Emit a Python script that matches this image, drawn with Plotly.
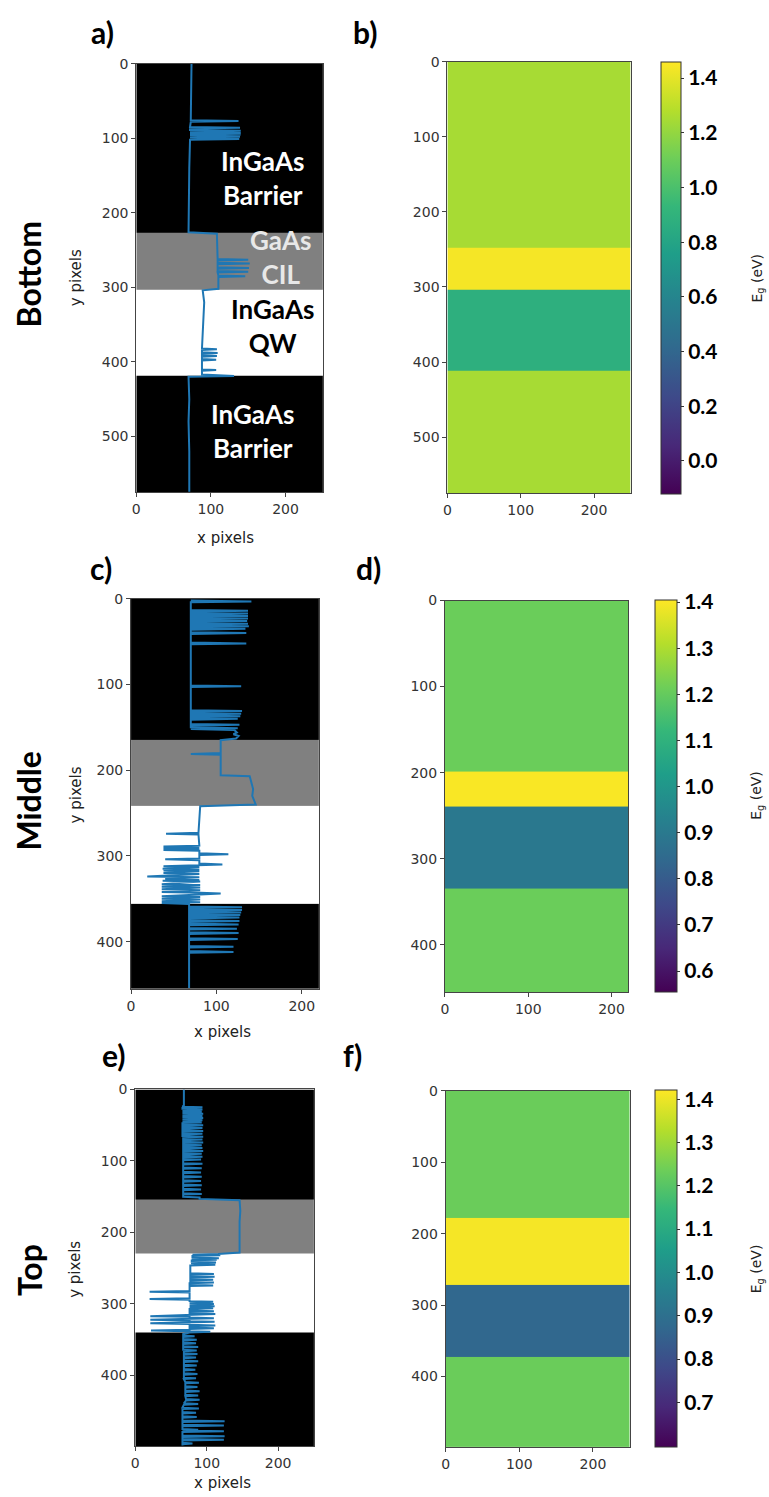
import plotly.graph_objects as go

W, H = 769, 1497

# ---------------- data ----------------
# Left column: segmented layer maps (0 = InGaAs barrier / black, 1 = GaAs CIL / gray, 2 = InGaAs QW / white)
a_cols, a_rows = 250, 575
a_edges = [0, 227, 303, 418, 575]
a_phase = [0, 1, 2, 0]
a_line = [
    (0, 74), (40, 73), (76, 73), (77, 137), (78, 73), (85, 72), (86, 139), (87, 72), (89, 72), (90, 140),
    (91, 72), (92, 72), (93, 140), (94, 72), (95, 140), (96, 72), (98, 139), (99, 72), (101, 138), (102, 72),
    (140, 71), (190, 71), (226, 70),
    (228, 108), (245, 109), (262, 109), (263, 150), (264, 109), (267, 109), (268, 152), (269, 109), (273, 109),
    (274, 151), (275, 109), (278, 109), (279, 150), (280, 109), (284, 110), (285, 146), (286, 110), (302, 110),
    (304, 89), (320, 91), (345, 90), (365, 89), (382, 88), (383, 108), (384, 88), (387, 88), (388, 109),
    (389, 88), (391, 88), (392, 108), (393, 88), (396, 88), (397, 107), (398, 88), (410, 88), (411, 107),
    (412, 88), (417, 88), (419, 131), (420, 70),
    (450, 71), (480, 70), (520, 71), (574, 71),
]

c_cols, c_rows = 220, 455
c_edges = [0, 164, 241, 356, 455]
c_phase = [0, 1, 2, 0]
c_line = [
    (2, 70), (3, 141), (4, 70), (13, 70), (14, 137), (15, 70), (16, 70), (17, 137), (18, 70), (19, 70),
    (20, 137), (21, 70), (22, 70), (23, 137), (24, 70), (25, 70), (26, 136), (27, 70), (28, 70), (29, 137),
    (30, 70), (31, 70), (32, 138), (33, 70), (34, 70), (35, 134), (36, 70), (39, 70), (40, 135), (41, 70),
    (51, 70), (52, 135), (53, 70), (101, 70), (102, 129), (103, 70), (130, 70), (131, 130), (132, 70),
    (133, 70), (134, 129), (135, 70), (136, 70), (137, 128), (138, 70), (139, 70), (140, 125), (141, 70),
    (146, 70), (147, 127), (148, 70), (150, 70), (151, 125), (152, 70), (153, 121), (156, 124), (158, 120),
    (160, 126), (163, 123),
    (165, 105), (180, 105), (181, 70), (182, 105), (206, 105), (207, 139), (215, 141), (222, 143),
    (230, 142), (235, 144), (240, 146),
    (242, 81), (255, 80), (270, 79), (273, 79), (274, 41), (275, 79), (288, 80), (289, 38), (290, 80),
    (291, 38), (292, 80), (293, 38), (294, 80), (297, 80), (298, 114), (299, 80), (303, 80), (304, 40),
    (305, 80), (309, 80), (310, 107), (311, 80), (312, 38), (313, 80), (315, 37), (316, 80), (317, 38),
    (318, 80), (320, 38), (321, 80), (323, 40), (324, 19), (325, 80), (327, 40), (328, 80), (329, 37),
    (330, 81), (333, 36), (334, 81), (336, 36), (337, 81), (339, 36), (340, 81), (342, 36), (343, 81),
    (344, 105), (345, 81), (347, 36), (348, 81), (350, 36), (351, 81), (353, 36), (354, 81), (355, 36),
    (356, 68), (359, 68), (360, 130), (361, 68), (362, 68), (363, 130), (364, 68), (365, 68), (366, 129),
    (367, 68), (368, 68), (369, 128), (370, 68), (371, 68), (372, 127), (373, 68), (375, 68), (376, 127),
    (377, 68), (379, 68), (380, 126), (381, 68), (384, 68), (385, 124), (386, 68), (389, 68), (390, 126),
    (391, 68), (396, 68), (397, 125), (398, 68), (405, 68), (406, 120), (407, 68), (411, 68), (412, 120),
    (413, 68), (454, 68),
]

e_cols, e_rows = 250, 499
e_edges = [0, 154, 229, 340, 499]
e_phase = [0, 1, 2, 0]
e_line = [
    (0, 68), (22, 68), (24, 66),
    (25, 94), (26, 66), (27, 66), (28, 94), (29, 66), (30, 66), (31, 93), (32, 66), (33, 66), (34, 95),
    (35, 66), (36, 66), (37, 94), (38, 66), (39, 66), (40, 95), (41, 66), (42, 66), (43, 94), (44, 66),
    (45, 66), (46, 93), (47, 66), (49, 66), (50, 95), (51, 66), (53, 66), (54, 94), (55, 66), (57, 66),
    (58, 95), (59, 66), (61, 66), (62, 94), (63, 66), (65, 66), (66, 95), (67, 67), (69, 67), (70, 94),
    (71, 67), (73, 67), (74, 95), (75, 67), (77, 67), (78, 93), (79, 67), (81, 67), (82, 94), (83, 67),
    (85, 67), (86, 95), (87, 67), (89, 67), (90, 93), (91, 67), (93, 67), (94, 94), (95, 67), (97, 67),
    (98, 92), (99, 67), (103, 67), (104, 94), (105, 67), (109, 67), (110, 93), (111, 67), (115, 67),
    (116, 92), (117, 67), (121, 67), (122, 93), (123, 67), (127, 67), (128, 92), (129, 67), (133, 67),
    (134, 93), (135, 67), (139, 67), (140, 92), (141, 67), (145, 67), (146, 93), (147, 67), (150, 67),
    (151, 90), (153, 90),
    (155, 146), (170, 147), (185, 146), (200, 146), (215, 147), (228, 146),
    (230, 116), (231, 80), (232, 119), (233, 80), (235, 80), (236, 117), (237, 79), (238, 114), (239, 79),
    (241, 79), (242, 113), (243, 78), (245, 112), (246, 77), (257, 77), (258, 110), (259, 77), (261, 77),
    (262, 111), (263, 77), (265, 77), (266, 109), (267, 77), (269, 77), (270, 110), (271, 76), (273, 76),
    (274, 109), (275, 76), (282, 76), (283, 20), (284, 76), (292, 76), (293, 20), (294, 76), (296, 76),
    (297, 109), (298, 76), (299, 76), (300, 110), (301, 76), (302, 76), (303, 111), (304, 76), (305, 76),
    (306, 109), (307, 76), (309, 76), (310, 110), (311, 76), (313, 76), (314, 112), (315, 76), (316, 76),
    (317, 21), (318, 76), (319, 76), (320, 110), (321, 76), (322, 21), (323, 76), (324, 76), (325, 111),
    (326, 76), (327, 21), (328, 76), (329, 76), (330, 112), (331, 76), (333, 76), (334, 110), (335, 76),
    (336, 76), (337, 22), (338, 76), (339, 105), (340, 76),
    (342, 67), (344, 67), (345, 83), (346, 67), (349, 67), (350, 86), (351, 67), (354, 67), (355, 85),
    (356, 67), (359, 67), (360, 88), (361, 67), (364, 67), (365, 86), (366, 68), (369, 68), (370, 87),
    (371, 68), (374, 68), (375, 85), (376, 68), (379, 68), (380, 88), (381, 68), (385, 68), (386, 86),
    (387, 68), (391, 68), (392, 84), (393, 68), (397, 68), (398, 87), (399, 68), (403, 68), (404, 85),
    (405, 68), (409, 70), (410, 89), (411, 70), (415, 70), (416, 87), (417, 70), (421, 70), (422, 90),
    (423, 70), (427, 70), (428, 88), (429, 70), (433, 71), (434, 90), (435, 71), (439, 68), (440, 88),
    (441, 68), (445, 66), (446, 89), (447, 66), (451, 66), (452, 85), (453, 66), (457, 66), (458, 86),
    (459, 66), (463, 66), (464, 125), (465, 66), (469, 66), (470, 124), (471, 66), (475, 66), (476, 88),
    (477, 66), (478, 124), (479, 66), (484, 66), (485, 125), (486, 66), (489, 66), (490, 124), (491, 66),
    (494, 66), (495, 80), (496, 66), (498, 66),
]

# Right column: band-gap maps (eV)
b_cols, b_rows = 250, 575
b_edges = [0, 248, 304, 412, 575]
b_eg = [1.25, 1.44, 0.88, 1.25]
b_crange = [-0.12, 1.46]
b_cticks = [0.0, 0.2, 0.4, 0.6, 0.8, 1.0, 1.2, 1.4]

d_cols, d_rows = 220, 455
d_edges = [0, 199, 239, 335, 455]
d_eg = [1.21, 1.40, 0.895, 1.21]
d_crange = [0.555, 1.405]
d_cticks = [0.6, 0.7, 0.8, 0.9, 1.0, 1.1, 1.2, 1.3, 1.4]

f_cols, f_rows = 250, 499
f_edges = [0, 178, 272, 373, 499]
f_eg = [1.23, 1.41, 0.87, 1.23]
f_crange = [0.596, 1.42]
f_cticks = [0.7, 0.8, 0.9, 1.0, 1.1, 1.2, 1.3, 1.4]

xticks = [0, 100, 200]
yticks_long = [0, 100, 200, 300, 400, 500]
yticks_short = [0, 100, 200, 300, 400]

# ---------------- figure ----------------
def xd(l, r):
    return [l / W, r / W]

def yd(t, b):
    return [1 - b / H, 1 - t / H]

fig = go.Figure()

phase_scale = [[0, "#000000"], [0.5, "#808080"], [1, "#ffffff"]]

left_panels = [
    ("x", "y", a_cols, a_edges, a_phase, a_line),
    ("x3", "y3", c_cols, c_edges, c_phase, c_line),
    ("x5", "y5", e_cols, e_edges, e_phase, e_line),
]
for xa, ya, cols, edges, phase, line in left_panels:
    fig.add_trace(go.Heatmap(
        z=[[p] for p in phase], x=[0, cols], y=edges, xaxis=xa, yaxis=ya,
        colorscale=phase_scale, zmin=0, zmax=2, showscale=False, hoverinfo="skip"))
    fig.add_trace(go.Scatter(
        x=[p[1] for p in line], y=[p[0] for p in line], xaxis=xa, yaxis=ya,
        mode="lines", line=dict(color="#1f77b4", width=2), showlegend=False))

cb_common = dict(
    thicknessmode="pixels", lenmode="fraction", xanchor="left", yanchor="top",
    xpad=0, ypad=0, outlinewidth=1, outlinecolor="#333",
    ticks="outside", ticklen=3, tickcolor="#333", tickformat=".1f",
    tickfont=dict(family="Lato", size=21, color="#000000", weight="bold"),
)
right_panels = [
    ("x2", "y2", b_cols, b_edges, b_eg, b_crange, b_cticks, (660, 54, 488, 20)),
    ("x4", "y4", d_cols, d_edges, d_eg, d_crange, d_cticks, (654.5, 595, 989.3, 22)),
    ("x6", "y6", f_cols, f_edges, f_eg, f_crange, f_cticks, (654, 1088.3, 1447.7, 22)),
]
for xa, ya, cols, edges, eg, cr, ct, (cx, ct_top, cb_bot, th) in right_panels:
    fig.add_trace(go.Heatmap(
        z=[[v] for v in eg], x=[0, cols], y=edges, xaxis=xa, yaxis=ya,
        colorscale="Viridis", zmin=cr[0], zmax=cr[1], hoverinfo="skip",
        colorbar=dict(x=cx / W, y=1 - ct_top / H, len=(cb_bot - ct_top) / H,
                      thickness=th, tickvals=ct, **cb_common)))

axis_style = dict(
    showline=True, mirror=True, linecolor="#444", linewidth=1,
    ticks="outside", ticklen=4, tickcolor="#444", showgrid=False, zeroline=False,
    tickfont=dict(family="DejaVu Sans", size=14, color="#333"),
)

panels = [
    ("", (133, 320.5, 56, 487), a_cols, a_rows, yticks_long),
    ("2", (445.7, 630, 54, 488), b_cols, b_rows, yticks_long),
    ("3", (127.7, 316.5, 594, 986), c_cols, c_rows, yticks_short),
    ("4", (443.3, 627.5, 595.7, 989.3), d_cols, d_rows, yticks_short),
    ("5", (132, 311.5, 1087.3, 1446), e_cols, e_rows, yticks_short),
    ("6", (444, 629, 1088.7, 1447), f_cols, f_rows, yticks_short),
]
layout = dict(
    width=W, height=H, margin=dict(l=0, r=0, t=0, b=0),
    paper_bgcolor="white", plot_bgcolor="white", showlegend=False,
)
for suf, (l, r, t, b), cols, rows, yt in panels:
    layout["xaxis" + suf] = dict(domain=xd(l, r), anchor="y" + suf, range=[0, cols],
                                 tickvals=xticks, **axis_style)
    layout["yaxis" + suf] = dict(domain=yd(t, b), anchor="x" + suf, range=[rows, 0],
                                 tickvals=yt, **axis_style)

ann = []

def add_text(text, x, y, size, color="#000", family="Lato", bold=True, angle=0):
    ann.append(dict(
        text=("<b>%s</b>" % text) if bold else text, x=x / W, y=1 - y / H,
        xref="paper", yref="paper", xanchor="center", yanchor="middle",
        showarrow=False, textangle=angle, borderpad=0,
        font=dict(family=family, size=size, color=color)))

# panel letters
for txt, x, y in [("a)", 99, 24), ("b)", 363, 24), ("c)", 98, 563), ("d)", 366, 563),
                  ("e)", 111, 1053), ("f)", 350, 1053)]:
    add_text(txt, x, y, 30)

# row labels
for txt, y in [("Bottom", 268), ("Middle", 797), ("Top", 1269)]:
    add_text(txt, 25, y, 32, angle=-90)

# axis labels
for y in [271, 791, 1268]:
    add_text("y pixels", 72, y, 15, color="#222", family="DejaVu Sans", bold=False, angle=-90)
for x, y in [(223, 533), (220, 1030), (220, 1483)]:
    add_text("x pixels", x, y, 15, color="#222", family="DejaVu Sans", bold=False)
for y in [272, 792, 1268]:
    add_text("E<sub>g</sub> (eV)", 757, y, 14, color="#222", family="DejaVu Sans", bold=False, angle=-90)

# layer labels in panel a
for txt, x, y, col in [("InGaAs<br>Barrier", 260, 171, "#ffffff"),
                       ("GaAs<br>CIL", 278, 250, "#e8e8e8"),
                       ("InGaAs<br>QW", 270, 320, "#000000"),
                       ("InGaAs<br>Barrier", 250, 425, "#ffffff")]:
    add_text(txt, x, y, 26, color=col)

layout["annotations"] = ann
fig.update_layout(**layout)
fig.write_html("out.html")
